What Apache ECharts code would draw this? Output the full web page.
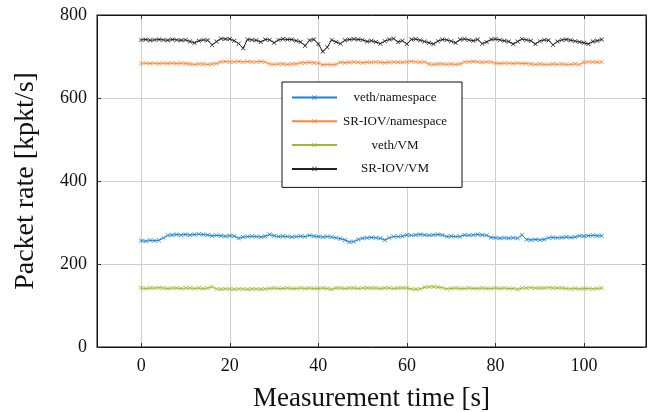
<!DOCTYPE html>
<html>
<head>
<meta charset="utf-8">
<script src="https://cdn.jsdelivr.net/npm/echarts@6/dist/echarts.min.js"></script>
<style>
html,body{margin:0;padding:0;background:#fff;}
#chart{width:660px;height:412px;}
</style>
</head>
<body>
<div id="chart"></div>
<script>
var seriesNames = ['veth/namespace', 'SR-IOV/namespace', 'veth/VM', 'SR-IOV/VM'];
var times = [0,1,2,3,4,5,6,7,8,9,10,11,12,13,14,15,16,17,18,19,20,21,22,23,24,25,26,27,28,29,30,31,32,33,34,35,36,37,38,39,40,41,42,43,44,45,46,47,48,49,50,51,52,53,54,55,56,57,58,59,60,61,62,63,64,65,66,67,68,69,70,71,72,73,74,75,76,77,78,79,80,81,82,83,84,85,86,87,88,89,90,91,92,93,94,95,96,97,98,99,100,101,102,103,104];
var vethNamespace = [256,255,257,256,257,263,269,270,271,270,271,270,271,272,271,270,268,269,268,267,268,267,262,265,266,267,266,265,267,271,268,266,267,266,265,266,267,266,269,267,266,265,266,265,263,261,258,253,254,259,262,263,264,263,262,258,263,266,266,267,270,269,270,271,270,269,270,271,270,266,267,266,266,270,269,270,271,270,269,264,263,262,263,262,263,262,270,259,258,259,258,259,263,264,263,264,265,264,265,268,267,268,269,268,268];
var sriovNamespace = [683,684,683,684,683,684,683,684,683,684,683,682,681,682,682,681,682,683,687,688,687,687,688,687,688,687,687,688,687,682,681,682,682,681,682,682,685,685,686,685,684,680,681,680,681,686,685,686,687,686,685,686,686,687,686,685,686,687,686,686,687,688,687,686,687,682,681,682,682,681,682,681,682,687,687,688,687,686,687,687,684,683,684,684,683,684,683,683,682,681,682,681,681,682,681,682,681,681,682,681,686,687,687,686,687];
var vethVM = [142,141,142,142,143,142,141,142,142,141,142,142,141,142,141,142,145,140,139,140,140,139,140,140,139,140,140,139,140,141,142,141,141,142,141,141,142,141,142,141,141,142,141,139,142,142,141,142,142,141,142,142,142,142,141,142,142,141,142,142,142,140,139,140,144,145,145,144,143,140,141,142,141,141,142,141,141,142,141,141,142,141,142,141,141,139,142,142,143,142,142,142,143,142,142,142,141,140,141,140,141,141,140,141,142];
var sriovVM = [740,741,739,740,741,740,739,741,740,739,740,736,733,738,740,739,728,736,743,742,742,738,731,720,741,740,739,735,741,740,733,740,742,741,741,738,735,726,739,741,730,712,722,740,735,731,739,741,742,741,740,736,738,735,731,737,741,743,735,738,730,741,742,739,736,733,730,737,741,740,737,733,741,742,740,738,741,731,735,741,742,740,738,736,730,736,742,740,738,730,737,740,739,728,736,740,741,739,737,735,733,730,736,738,741];
var yTicks = [0, 200, 400, 600, 800];
var xTicks = [0, 20, 40, 60, 80, 100];

var colors = ['#1b84d2', '#f8893f', '#9dba2c', '#222222'];
var FONT = "'Liberation Serif','DejaVu Serif',serif";
var X_SYM = 'path://M0,1L1,0L5,4L9,0L10,1L6,5L10,9L9,10L5,6L1,10L0,9L4,5Z';

function pairs(vals) {
  return vals.map(function (v, i) { return [times[i], v]; });
}
var allData = [vethNamespace, sriovNamespace, vethVM, sriovVM];

var chart = echarts.init(document.getElementById('chart'), null, {renderer: 'canvas'});
var series = seriesNames.map(function (name, i) {
  return {
    name: name,
    type: 'line',
    data: pairs(allData[i]),
    symbol: X_SYM,
    symbolSize: 4.5,
    showSymbol: true,
    animation: false,
    lineStyle: {color: colors[i], width: 1},
    itemStyle: {color: colors[i]},
    emphasis: {disabled: true}
  };
});

var tickFmt = function (list) {
  return function (v) { return list.indexOf(v) >= 0 ? String(v) : ''; };
};

chart.setOption({
  animation: false,
  color: colors,
  textStyle: {fontFamily: FONT},
  grid: {left: 97, right: 14, top: 15, bottom: 65, containLabel: false, outerBoundsMode: 'none', show: true, borderColor: '#111', borderWidth: 1, backgroundColor: 'transparent'},
  legend: {
    show: true,
    orient: 'vertical',
    left: 282,
    top: 82,
    padding: [9, 14, 12, 9],
    backgroundColor: '#fff',
    borderColor: '#111',
    borderWidth: 1,
    borderRadius: 0,
    itemWidth: 45,
    itemHeight: 6,
    itemGap: 10.8,
    selectedMode: false,
    formatter: function (name) { return '{a|' + name + '}'; },
    textStyle: {
      fontFamily: FONT,
      fontSize: 13,
      color: '#111',
      rich: {a: {width: 106, align: 'center', fontFamily: FONT, fontSize: 13, lineHeight: 14, color: '#111'}}
    }
  },
  xAxis: [{
    type: 'value',
    min: -10,
    max: 114,
    minInterval: 20,
    maxInterval: 20,
    name: 'Measurement time [s]',
    nameLocation: 'middle',
    nameGap: 38,
    nameTextStyle: {fontFamily: FONT, fontSize: 27, color: '#111'},
    axisLine: {show: true, onZero: false, lineStyle: {color: '#111', width: 1}},
    axisTick: {show: true, inside: true, length: 4, lineStyle: {color: '#333'}},
    axisLabel: {show: true, showMinLabel: false, showMaxLabel: false, formatter: tickFmt(xTicks), fontFamily: FONT, fontSize: 18, color: '#111', margin: 10},
    splitLine: {show: true, lineStyle: {color: '#cfcfcf', width: 1}}
  }, {
    type: 'value',
    position: 'top',
    min: -10,
    max: 114,
    minInterval: 20,
    maxInterval: 20,
    axisLine: {show: true, onZero: false, lineStyle: {color: '#111', width: 1}},
    axisTick: {show: true, inside: true, length: 4, lineStyle: {color: '#333'}},
    axisLabel: {show: false},
    splitLine: {show: false}
  }],
  yAxis: [{
    type: 'value',
    min: 0,
    max: 800,
    interval: 200,
    name: 'Packet rate [kpkt/s]',
    nameLocation: 'middle',
    nameGap: 57,
    nameTextStyle: {fontFamily: FONT, fontSize: 28, color: '#111'},
    axisLine: {show: true, onZero: false, lineStyle: {color: '#111', width: 1}},
    axisTick: {show: true, inside: true, length: 4, lineStyle: {color: '#333'}},
    axisLabel: {show: true, formatter: tickFmt(yTicks), fontFamily: FONT, fontSize: 18, color: '#111', margin: 10},
    splitLine: {show: true, lineStyle: {color: '#cfcfcf', width: 1}}
  }, {
    type: 'value',
    position: 'right',
    min: 0,
    max: 800,
    interval: 200,
    axisLine: {show: true, onZero: false, lineStyle: {color: '#111', width: 1}},
    axisTick: {show: true, inside: true, length: 4, lineStyle: {color: '#333'}},
    axisLabel: {show: false},
    splitLine: {show: false}
  }],
  series: series
});
</script>
</body>
</html>
